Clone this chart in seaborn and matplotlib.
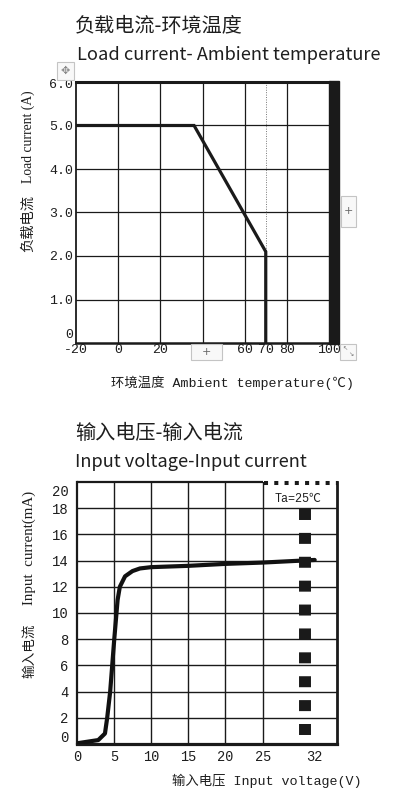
import numpy as np
import pandas as pd
import matplotlib
matplotlib.use('Agg')
import matplotlib.pyplot as plt
import seaborn as sns
import matplotlib.transforms as mtrans
from matplotlib.patches import Rectangle

# ---------------- data ----------------
temp_c = [-20, 36, 70, 70]
load_a = [5.0, 5.0, 2.1, 0.0]
temp_ticks = [-20, 0, 20, 60, 70, 80, 100]
temp_tick_labels = ['-20', '0', '20', '60', '70', '80', '100']
temp_grid = [0, 20, 40, 60, 80]
temp_dotted = [70]
load_ticks = [0, 1, 2, 3, 4, 5, 6]
load_tick_labels = ['0', '1.0', '2.0', '3.0', '4.0', '5.0', '6.0']
load_grid = [1, 2, 3, 4, 5]

volt_v = [0, 2.9, 3.8, 4.1, 4.5, 5.05, 5.5, 5.8, 6.5, 7.5, 8.5, 10, 15, 20, 25, 32]
curr_ma = [0.05, 0.3, 0.8, 2.0, 4.0, 8.0, 11.0, 12.0, 12.8, 13.2, 13.4, 13.5, 13.6, 13.75, 13.85, 14.05]
volt_ticks = [0, 5, 10, 15, 20, 25, 32]
volt_tick_labels = ['0', '5', '10', '15', '20', '25', '32']
volt_grid = [5, 10, 15, 20, 25]
curr_ticks = [0, 2, 4, 6, 8, 10, 12, 14, 16, 18, 20]
curr_tick_labels = ['0', '2', '4', '6', '8', '10', '12', '14', '16', '18', '20']
curr_grid = [2, 4, 6, 8, 10, 12, 14, 16, 18]

title1_cn = '负载电流-环境温度'
title1_en = 'Load current- Ambient temperature'
title2_cn = '输入电压-输入电流'
title2_en = 'Input voltage-Input current'
xlabel1 = '环境温度 Ambient temperature(℃)'
ylabel1_cn = '负载电流'
ylabel1_en = 'Load current (A)'
xlabel2 = '输入电压 Input voltage(V)'
ylabel2_cn = '输入电流'
ylabel2_en = 'Input  current(mA)'
note2 = 'Ta=25℃'

# ---------------- style ----------------
sns.set_theme(style='white')
plt.rcParams['font.family'] = ['Liberation Mono', 'Noto Sans CJK SC', 'DejaVu Sans']
INK = '#1a1a1a'
TXT = '#1e1e1e'
MONO = ['Liberation Mono', 'Noto Sans CJK SC', 'DejaVu Sans']
SERIF = ['Liberation Serif', 'Noto Sans CJK SC', 'DejaVu Sans']
SANS = ['Noto Sans CJK SC', 'DejaVu Sans']

W, H = 398, 799
fig = plt.figure(figsize=(W / 100, H / 100), dpi=100)
fig.patch.set_facecolor('white')

def fx(px):
    return px / W

def fy(py):
    return 1 - py / H

# titles
fig.text(fx(75), fy(26), title1_cn, family=SANS, fontsize=14.5, color=TXT, va='center', ha='left')
fig.text(fx(77), fy(55), title1_en, family=SANS, fontsize=13.1, color=TXT, va='center', ha='left')
fig.text(fx(75), fy(433), title2_cn, family=SANS, fontsize=14.5, color=TXT, va='center', ha='left')
fig.text(fx(75), fy(462), title2_en, family=SANS, fontsize=13.1, color=TXT, va='center', ha='left')

# ---------------- chart 1 ----------------
ax1 = fig.add_axes([fx(76), fy(343), (329 - 76) / W, (343 - 82) / H])
df1 = pd.DataFrame({'t': temp_c, 'i': load_a})
sns.lineplot(data=df1, x='t', y='i', ax=ax1, color=INK, linewidth=2.3,
             sort=False, estimator=None, zorder=5)
for ln in ax1.lines:
    ln.set_solid_joinstyle('miter')
ax1.set_xlim(-20, 100)
ax1.set_ylim(0, 6)
ax1.xaxis.remove_overlapping_locs = False
ax1.yaxis.remove_overlapping_locs = False
ax1.set_xticks(temp_ticks)
ax1.set_xticklabels(temp_tick_labels, family=MONO, fontsize=9.5, color=TXT)
ax1.set_yticks(load_ticks)
ax1.set_yticklabels(load_tick_labels, family=MONO, fontsize=9.5, color=TXT)
ax1.set_xticks(temp_grid, minor=True)
ax1.set_yticks(load_grid, minor=True)
ax1.grid(False)
ax1.grid(which='minor', color=INK, linewidth=0.9)
for v in temp_dotted:
    ax1.axvline(v, color='#777777', linewidth=0.7, linestyle=(0, (1, 1.5)))
ax1.tick_params(which='both', length=0)
ax1.tick_params(axis='x', pad=1)
ax1.tick_params(axis='y', pad=2)
ax1.set_axisbelow(True)
for s, lw in [('top', 2.2), ('bottom', 1.8), ('left', 1.3)]:
    ax1.spines[s].set_color(INK)
    ax1.spines[s].set_linewidth(lw)
ax1.spines['right'].set_visible(False)
ax1.add_patch(Rectangle((1.0, -0.004), 10 / 253, 1.008, transform=ax1.transAxes,
                        color=INK, clip_on=False, zorder=6))
ax1.set_xlabel(xlabel1, family=MONO, fontsize=9.6, color=TXT)
ax1.xaxis.set_label_coords((232.5 - 76) / 253, (343 - 383) / 261)
ax1.xaxis.label.set_va('center')
ax1.set_ylabel('')
ax1.text((28 - 76) / 253, (343 - 223) / 261, ylabel1_cn, transform=ax1.transAxes,
         family=SANS, fontsize=10.3, color=TXT, rotation=90, ha='center', va='center')
ax1.text((28 - 76) / 253, (343 - 137) / 261, ylabel1_en, transform=ax1.transAxes,
         family=SERIF, fontsize=9.8, color=TXT, rotation=90, ha='center', va='center')
ylabs1 = ax1.get_yticklabels()
ylabs1[0].set_transform(ylabs1[0].get_transform() + mtrans.ScaledTranslation(0, 10 / 100, fig.dpi_scale_trans))
ylabs1[-1].set_transform(ylabs1[-1].get_transform() + mtrans.ScaledTranslation(0, -2 / 100, fig.dpi_scale_trans))

# ---------------- chart 2 ----------------
ax2 = fig.add_axes([fx(76.7), fy(744), (337 - 76.7) / W, (744 - 482) / H])
df2 = pd.DataFrame({'v': volt_v, 'i': curr_ma})
sns.lineplot(data=df2, x='v', y='i', ax=ax2, color='#111111', linewidth=3.0,
             sort=False, estimator=None, zorder=5)
for ln in ax2.lines:
    ln.set_solid_joinstyle('round')
    ln.set_solid_capstyle('round')
ax2.set_xlim(0, 35)
ax2.set_ylim(0, 20)
ax2.xaxis.remove_overlapping_locs = False
ax2.yaxis.remove_overlapping_locs = False
ax2.set_xticks(volt_ticks)
ax2.set_xticklabels(volt_tick_labels, family=MONO, fontsize=9.8, color=TXT)
ax2.set_yticks(curr_ticks)
ax2.set_yticklabels(curr_tick_labels, family=MONO, fontsize=10, color=TXT)
ax2.set_xticks(volt_grid, minor=True)
ax2.set_yticks(curr_grid, minor=True)
ax2.grid(False)
ax2.grid(which='minor', color=INK, linewidth=1.0)
ax2.tick_params(which='both', length=0)
ax2.tick_params(axis='x', pad=4)
ax2.tick_params(axis='y', pad=6)
ax2.set_axisbelow(True)
for s, lw in [('bottom', 2.3), ('left', 1.6), ('right', 2.0)]:
    ax2.spines[s].set_color(INK)
    ax2.spines[s].set_linewidth(lw)
ax2.spines['top'].set_visible(False)
# top border: solid then dotted
ax2.plot([0, 25.1], [20, 20], color=INK, linewidth=1.6, clip_on=False, zorder=6,
         solid_capstyle='butt')
ax2.plot([25.2, 35.1], [20 - 0.1, 20 - 0.1], color=INK, linewidth=2.9, clip_on=False, zorder=6,
         linestyle=(0, (1.0, 1.55)))
# dotted heavy column
ax2.plot([30.7, 30.7], [17.95, 0.6], color=INK, linewidth=8.6, zorder=6,
         linestyle=(0, (0.92, 1.08)))
ax2.text((298 - 76.7) / 7.437, (744 - 499) / 13.1, note2, family=MONO, fontsize=8.5,
         color=TXT, ha='center', va='center', zorder=7)
ax2.set_xlabel(xlabel2, family=MONO, fontsize=9.6, color=TXT)
ax2.xaxis.set_label_coords((266.5 - 76.7) / 260.3, (744 - 781) / 262)
ax2.xaxis.label.set_va('center')
ax2.set_ylabel('')
ax2.text((29 - 76.7) / 260.3, (744 - 650.5) / 262, ylabel2_cn, transform=ax2.transAxes,
         family=SANS, fontsize=9.8, color=TXT, rotation=90, ha='center', va='center')
ax2.text((29 - 76.7) / 260.3, (744 - 548) / 262, ylabel2_en, transform=ax2.transAxes,
         family=SERIF, fontsize=10.8, color=TXT, rotation=90, ha='center', va='center')
ylabs2 = ax2.get_yticklabels()
ylabs2[0].set_transform(ylabs2[0].get_transform() + mtrans.ScaledTranslation(0, 7 / 100, fig.dpi_scale_trans))
ylabs2[-1].set_transform(ylabs2[-1].get_transform() + mtrans.ScaledTranslation(0, -8 / 100, fig.dpi_scale_trans))

# ---------------- editor UI widgets from the screenshot ----------------
def box(x0, y0, x1, y1):
    fig.add_artist(Rectangle((fx(x0), fy(y1)), (x1 - x0) / W, (y1 - y0) / H,
                             transform=fig.transFigure, facecolor='#f8f8f8',
                             edgecolor='#c4c4c4', linewidth=0.8, zorder=10))

box(57, 62, 74, 80)
fig.text(fx(65.5), fy(71), '✥', family=['DejaVu Sans'], fontsize=8, color='#888888',
         ha='center', va='center', zorder=11)
box(341, 196, 356, 227)
fig.text(fx(348.5), fy(211.5), '+', family=['DejaVu Sans'], fontsize=8, color='#666666',
         ha='center', va='center', zorder=11)
box(191, 344, 222, 360)
fig.text(fx(206.5), fy(352), '+', family=['DejaVu Sans'], fontsize=8, color='#666666',
         ha='center', va='center', zorder=11)
box(340, 344, 356, 360)
fig.text(fx(345), fy(349), '↖', family=['DejaVu Sans'], fontsize=4.5, color='#777777',
         ha='center', va='center', zorder=11)
fig.text(fx(351), fy(355), '↘', family=['DejaVu Sans'], fontsize=4.5, color='#777777',
         ha='center', va='center', zorder=11)

fig.savefig('out.png', dpi=100, facecolor='white')
